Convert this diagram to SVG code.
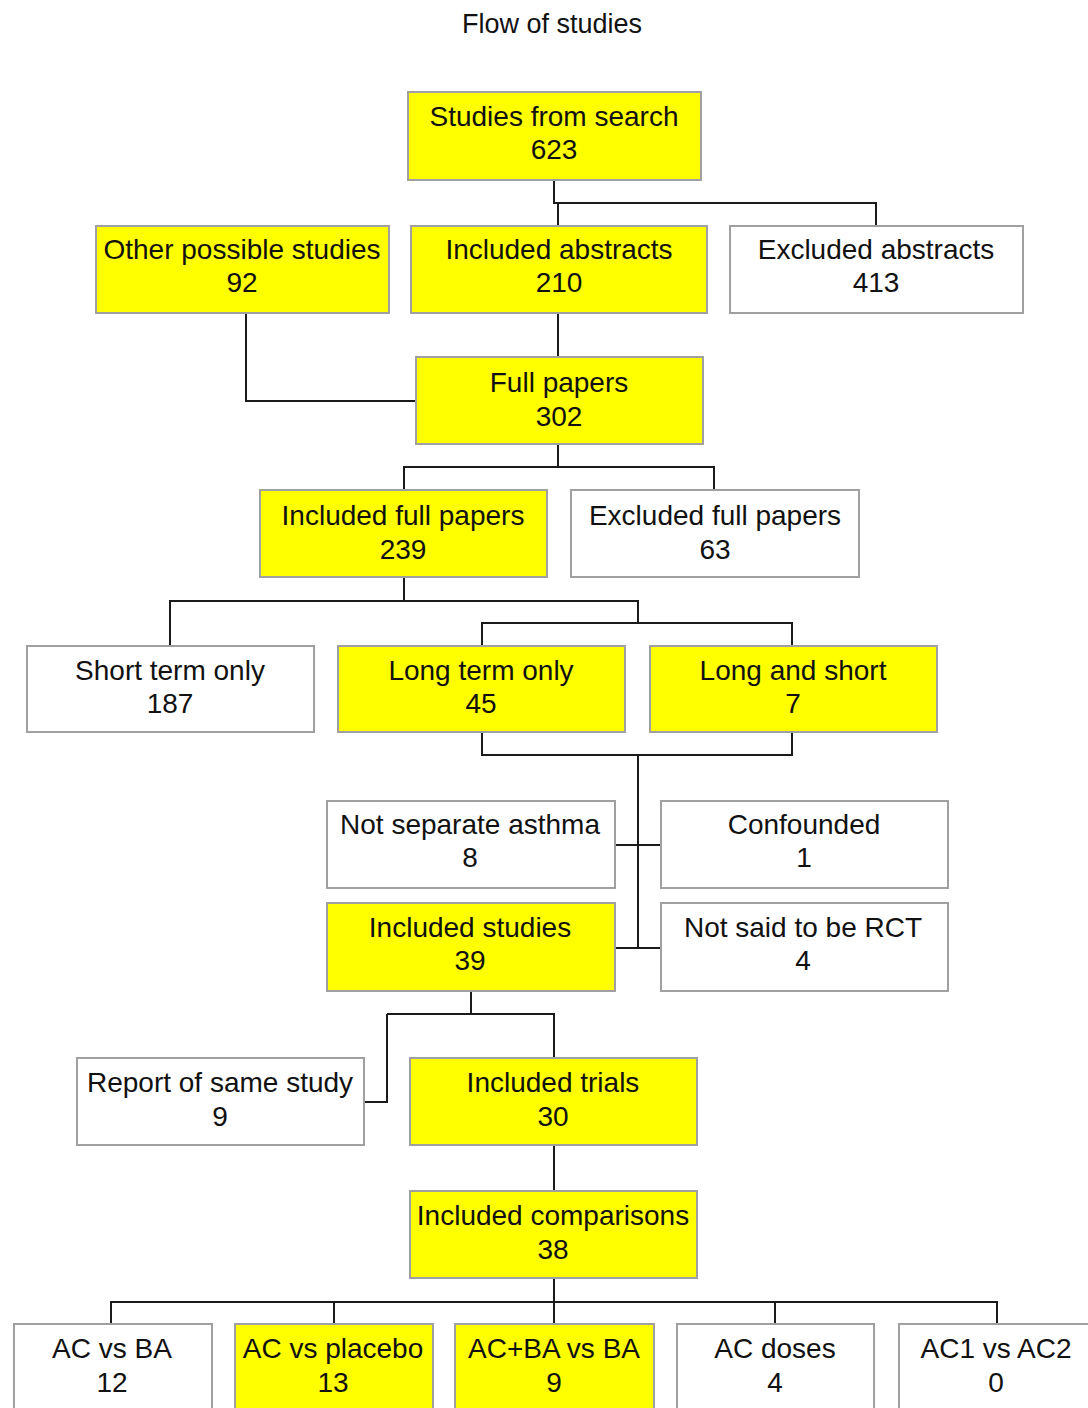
<svg xmlns="http://www.w3.org/2000/svg" width="1088" height="1408" viewBox="0 0 1088 1408">
<style>
.b{stroke:#a0a0a0;stroke-width:2}
.y{fill:#ffff00}
.w{fill:#ffffff}
text{font-family:"Liberation Sans",Arial,sans-serif;font-size:28px;fill:#111;text-anchor:middle}
#connectors path{fill:none;stroke:#1a1a1a;stroke-width:2}
</style>
<rect width="1088" height="1408" fill="#ffffff"/>
<text x="552" y="33" style="font-size:27px">Flow of studies</text>
<g id="connectors">
<path d="M554,180V203H876V226M558,203V225"/>
<path d="M558,313V357"/>
<path d="M246,313V401H416"/>
<path d="M558,444V467M404,490V467H714V490"/>
<path d="M404,577V601M170,646V601H638V623M482,646V623H792V646"/>
<path d="M482,732V755H792V732M638,755V948M615,845H661M615,948H661"/>
<path d="M471,992V1014M387,1014H554V1058M387,1014V1102H364"/>
<path d="M554,1145V1191"/>
<path d="M554,1278V1324M111,1324V1302H997V1324M334,1302V1324M775,1302V1324"/>
</g>
<g id="n_search"><rect class="b y" x="408" y="92" width="293" height="88"/><text x="554" y="126">Studies from search</text><text x="554" y="159">623</text></g>
<g id="n_other"><rect class="b y" x="96" y="226" width="293" height="87"/><text x="242" y="259">Other possible studies</text><text x="242" y="292">92</text></g>
<g id="n_incabs"><rect class="b y" x="411" y="226" width="296" height="87"/><text x="559" y="259">Included abstracts</text><text x="559" y="292">210</text></g>
<g id="n_excabs"><rect class="b w" x="730" y="226" width="293" height="87"/><text x="876" y="259">Excluded abstracts</text><text x="876" y="292">413</text></g>
<g id="n_full"><rect class="b y" x="416" y="357" width="287" height="87"/><text x="559" y="392">Full papers</text><text x="559" y="426">302</text></g>
<g id="n_incfull"><rect class="b y" x="260" y="490" width="287" height="87"/><text x="403" y="525">Included full papers</text><text x="403" y="559">239</text></g>
<g id="n_excfull"><rect class="b w" x="571" y="490" width="288" height="87"/><text x="715" y="525">Excluded full papers</text><text x="715" y="559">63</text></g>
<g id="n_short"><rect class="b w" x="27" y="646" width="287" height="86"/><text x="170" y="680">Short term only</text><text x="170" y="713">187</text></g>
<g id="n_long"><rect class="b y" x="338" y="646" width="287" height="86"/><text x="481" y="680">Long term only</text><text x="481" y="713">45</text></g>
<g id="n_longshort"><rect class="b y" x="650" y="646" width="287" height="86"/><text x="793" y="680">Long and short</text><text x="793" y="713">7</text></g>
<g id="n_notsep"><rect class="b w" x="327" y="801" width="288" height="87"/><text x="470" y="834">Not separate asthma</text><text x="470" y="867">8</text></g>
<g id="n_conf"><rect class="b w" x="661" y="801" width="287" height="87"/><text x="804" y="834">Confounded</text><text x="804" y="867">1</text></g>
<g id="n_incstud"><rect class="b y" x="327" y="903" width="288" height="88"/><text x="470" y="937">Included studies</text><text x="470" y="970">39</text></g>
<g id="n_rct"><rect class="b w" x="661" y="903" width="287" height="88"/><text x="803" y="937">Not said to be RCT</text><text x="803" y="970">4</text></g>
<g id="n_report"><rect class="b w" x="77" y="1058" width="287" height="87"/><text x="220" y="1092">Report of same study</text><text x="220" y="1126">9</text></g>
<g id="n_trials"><rect class="b y" x="410" y="1058" width="287" height="87"/><text x="553" y="1092">Included trials</text><text x="553" y="1126">30</text></g>
<g id="n_comp"><rect class="b y" x="410" y="1191" width="287" height="87"/><text x="553" y="1225">Included comparisons</text><text x="553" y="1259">38</text></g>
<g id="n_acba"><rect class="b w" x="14" y="1324" width="198" height="100"/><text x="112" y="1358">AC vs BA</text><text x="112" y="1392">12</text></g>
<g id="n_acpl"><rect class="b y" x="235" y="1324" width="198" height="100"/><text x="333" y="1358">AC vs placebo</text><text x="333" y="1392">13</text></g>
<g id="n_acbaba"><rect class="b y" x="455" y="1324" width="199" height="100"/><text x="554" y="1358">AC+BA vs BA</text><text x="554" y="1392">9</text></g>
<g id="n_acdose"><rect class="b w" x="677" y="1324" width="197" height="100"/><text x="775" y="1358">AC doses</text><text x="775" y="1392">4</text></g>
<g id="n_ac1ac2"><rect class="b w" x="899" y="1324" width="198" height="100"/><text x="996" y="1358">AC1 vs AC2</text><text x="996" y="1392">0</text></g>
</svg>
